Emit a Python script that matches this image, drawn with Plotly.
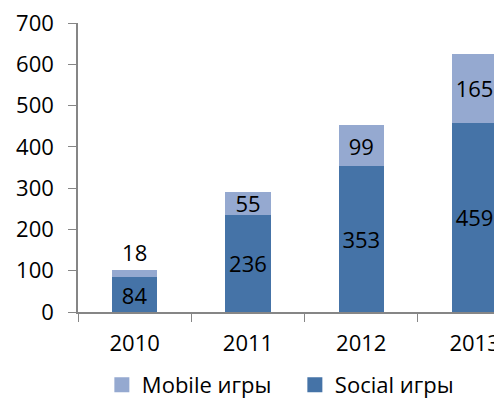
import plotly.graph_objects as go

years = ["2010", "2011", "2012", "2013"]
social = [84, 236, 353, 459]
mobile = [18, 55, 99, 165]
series_names = ["Mobile игры", "Social игры"]
y_ticks = [0, 100, 200, 300, 400, 500, 600, 700]

C_SOCIAL = "#4573A7"
C_MOBILE = "#95A9D0"
FONT = "Open Sans"
FS = 22

fig = go.Figure()
fig.add_trace(go.Bar(
    x=years, y=social, name=series_names[1], marker_color=C_SOCIAL,
    marker_line_width=0, text=[str(v) for v in social],
    textposition="inside", insidetextanchor="middle", textangle=0,
    textfont=dict(family=FONT, size=FS, color="black"),
    constraintext="none", showlegend=False, cliponaxis=False,
))
fig.add_trace(go.Bar(
    x=years, y=mobile, name=series_names[0], marker_color=C_MOBILE,
    marker_line_width=0, text=[str(v) for v in mobile],
    textposition=["outside", "inside", "inside", "inside"],
    insidetextanchor="middle", textangle=0,
    textfont=dict(family=FONT, size=FS, color="black"),
    constraintext="none", showlegend=False, cliponaxis=False,
))
# legend entries with square markers
for nm, col in [(series_names[0], C_MOBILE), (series_names[1], C_SOCIAL)]:
    fig.add_trace(go.Scatter(
        x=[None], y=[None], mode="markers", name=nm,
        marker=dict(symbol="square", size=15, color=col),
    ))

fig.update_layout(
    width=494, height=396,
    margin=dict(l=70, r=0, t=15, b=92, autoexpand=False),
    barmode="stack", bargap=0.6,
    plot_bgcolor="white", paper_bgcolor="white",
    font=dict(family=FONT, size=FS, color="black"),
    showlegend=True,
    legend=dict(orientation="h", xref="container", yref="container",
                x=0.19, xanchor="left", y=0.048, yanchor="middle",
                font=dict(family=FONT, size=FS, color="black"),
                itemwidth=30, tracegroupgap=0, traceorder="normal",
                entrywidth=148),
    xaxis=dict(type="category", range=[-0.5, 3.242], showline=True,
               linecolor="#868686", linewidth=1.5, ticks="outside",
               tickson="boundaries", ticklen=8, tickcolor="#868686",
               showgrid=False, ticklabelstandoff=11, automargin=False,
               ticklabeloverflow="allow"),
    yaxis=dict(range=[0, 700], tickvals=y_ticks, showline=True,
               linecolor="#868686", linewidth=1.5, ticks="outside",
               ticklen=8, tickcolor="#868686", showgrid=False,
               zeroline=False, ticklabelstandoff=10, automargin=False,
               ticklabeloverflow="allow"),
)
fig.write_html("out.html")
